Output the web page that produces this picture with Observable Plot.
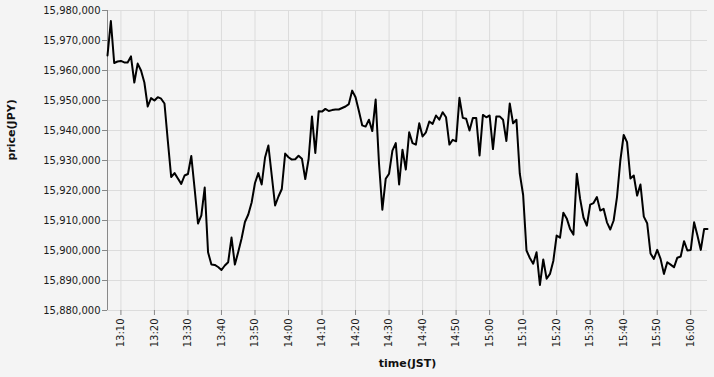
<!DOCTYPE html>
<html>
<head>
<meta charset="utf-8">
<script src="https://cdn.jsdelivr.net/npm/d3@7"></script>
<script src="https://cdn.jsdelivr.net/npm/@observablehq/plot@0.6"></script>
<style>
  html, body { margin: 0; padding: 0; background: #f4f4f4; }
  #chart svg { display: block; }
</style>
</head>
<body>
<div id="chart"></div>
<script>
// One-minute samples, 13:06 to 16:05 (JST)
const startTime = "2024-01-01T13:06:00Z";
const stepMinutes = 1;

const prices = [
  15965000, 15976500, 15962500, 15963000, 15963200, 15962700, 15962700, 15964700, 15956000, 15962300,
  15960000, 15956000, 15948000, 15950800, 15950000, 15951100, 15950600, 15949000, 15936500, 15924500,
  15925800, 15924000, 15922200, 15925000, 15925500, 15931500, 15920500, 15909000, 15911700, 15921000,
  15899400, 15895300, 15895200, 15894500, 15893500, 15895000, 15896100, 15904300, 15895300, 15899500,
  15904000, 15909500, 15912000, 15916000, 15922500, 15925800, 15922000, 15931000, 15935000, 15925000,
  15915000, 15918000, 15920500, 15932300, 15931100, 15930300, 15930400, 15931600, 15930600, 15923800,
  15930500, 15944700, 15932500, 15946400, 15946300, 15947200, 15946500, 15946800, 15947000, 15947000,
  15947500, 15948000, 15948800, 15953300, 15951100, 15946500, 15941700, 15941300, 15943600, 15939800,
  15950300, 15929000, 15913600, 15923900, 15925600, 15933300, 15935800, 15922000, 15933600, 15927000,
  15939400, 15935800, 15935300, 15942400, 15938000, 15939400, 15943000, 15942200, 15945000, 15943600,
  15946100, 15944400, 15935300, 15936900, 15936400, 15950900, 15944200, 15943900, 15940000, 15944200,
  15944200, 15931700, 15945200, 15944400, 15945000, 15933800, 15944700, 15944700, 15943600, 15936500,
  15949000, 15942400, 15943600, 15925600, 15918500, 15900000, 15897500, 15895600, 15899400, 15888500,
  15897000, 15890600, 15892200, 15896500, 15905000, 15904300, 15912600, 15910700, 15907200, 15905300,
  15925600, 15917200, 15911000, 15908300, 15915300, 15915800, 15917800, 15913300, 15913900, 15909400,
  15907000, 15910000, 15917800, 15930000, 15938500, 15936100, 15924000, 15925000, 15918300, 15922000,
  15911300, 15909100, 15899000, 15897200, 15900200, 15897200, 15892200, 15896100, 15895300, 15894400,
  15897600, 15898000, 15903100, 15900000, 15900200, 15909400, 15905000, 15900200, 15907200, 15907200
];

const yDomain = [15880000, 15980000];
const yTickStep = 10000;
const xTickMinutes = 10;
const xTitle = "time(JST)";
const yTitle = "price(JPY)";

const t0 = new Date(startTime);
const data = prices.map((p, i) => ({
  time: new Date(t0.getTime() + i * stepMinutes * 60000),
  price: p
}));
const timeDomain = [data[0].time, data[data.length - 1].time];
const yTicks = d3.range(yDomain[0], yDomain[1] + 1, yTickStep);
const xTicks = d3.utcMinute.every(xTickMinutes).range(timeDomain[0], new Date(timeDomain[1].getTime() + 1));

const chart = Plot.plot({
  width: 714,
  height: 377,
  marginLeft: 107,
  marginRight: 7,
  marginTop: 10,
  marginBottom: 67,
  style: {
    background: "#f4f4f4",
    fontFamily: "DejaVu Sans, sans-serif",
    fontSize: "10px",
    color: "#1a1a1a"
  },
  x: { type: "utc", domain: timeDomain },
  y: { domain: yDomain },
  marks: [
    Plot.gridY(yTicks, { stroke: "#dcdcdc", strokeOpacity: 1, strokeWidth: 1 }),
    Plot.gridX(xTicks, { stroke: "#dcdcdc", strokeOpacity: 1, strokeWidth: 1 }),
    Plot.ruleX([timeDomain[0]], { stroke: "#888", strokeWidth: 1 }),
    Plot.axisY(yTicks, {
      tickFormat: d3.format(","),
      tickSize: 5,
      tickPadding: 2,
      stroke: "#888",
      label: null
    }),
    Plot.axisX(xTicks, {
      tickFormat: d3.utcFormat("%H:%M"),
      tickRotate: -90,
      tickSize: 5,
      tickPadding: 3,
      stroke: "#888",
      label: null
    }),
    Plot.lineY(data, { x: "time", y: "price", stroke: "#000", strokeWidth: 2 }),
    Plot.text([yTitle], {
      frameAnchor: "left", rotate: -90, dx: -96,
      fontWeight: "bold", fontSize: 11, fill: "#111"
    }),
    Plot.text([xTitle], {
      frameAnchor: "bottom", dy: 56,
      fontWeight: "bold", fontSize: 11, fill: "#111"
    })
  ]
});
document.getElementById("chart").appendChild(chart);
</script>
</body>
</html>
